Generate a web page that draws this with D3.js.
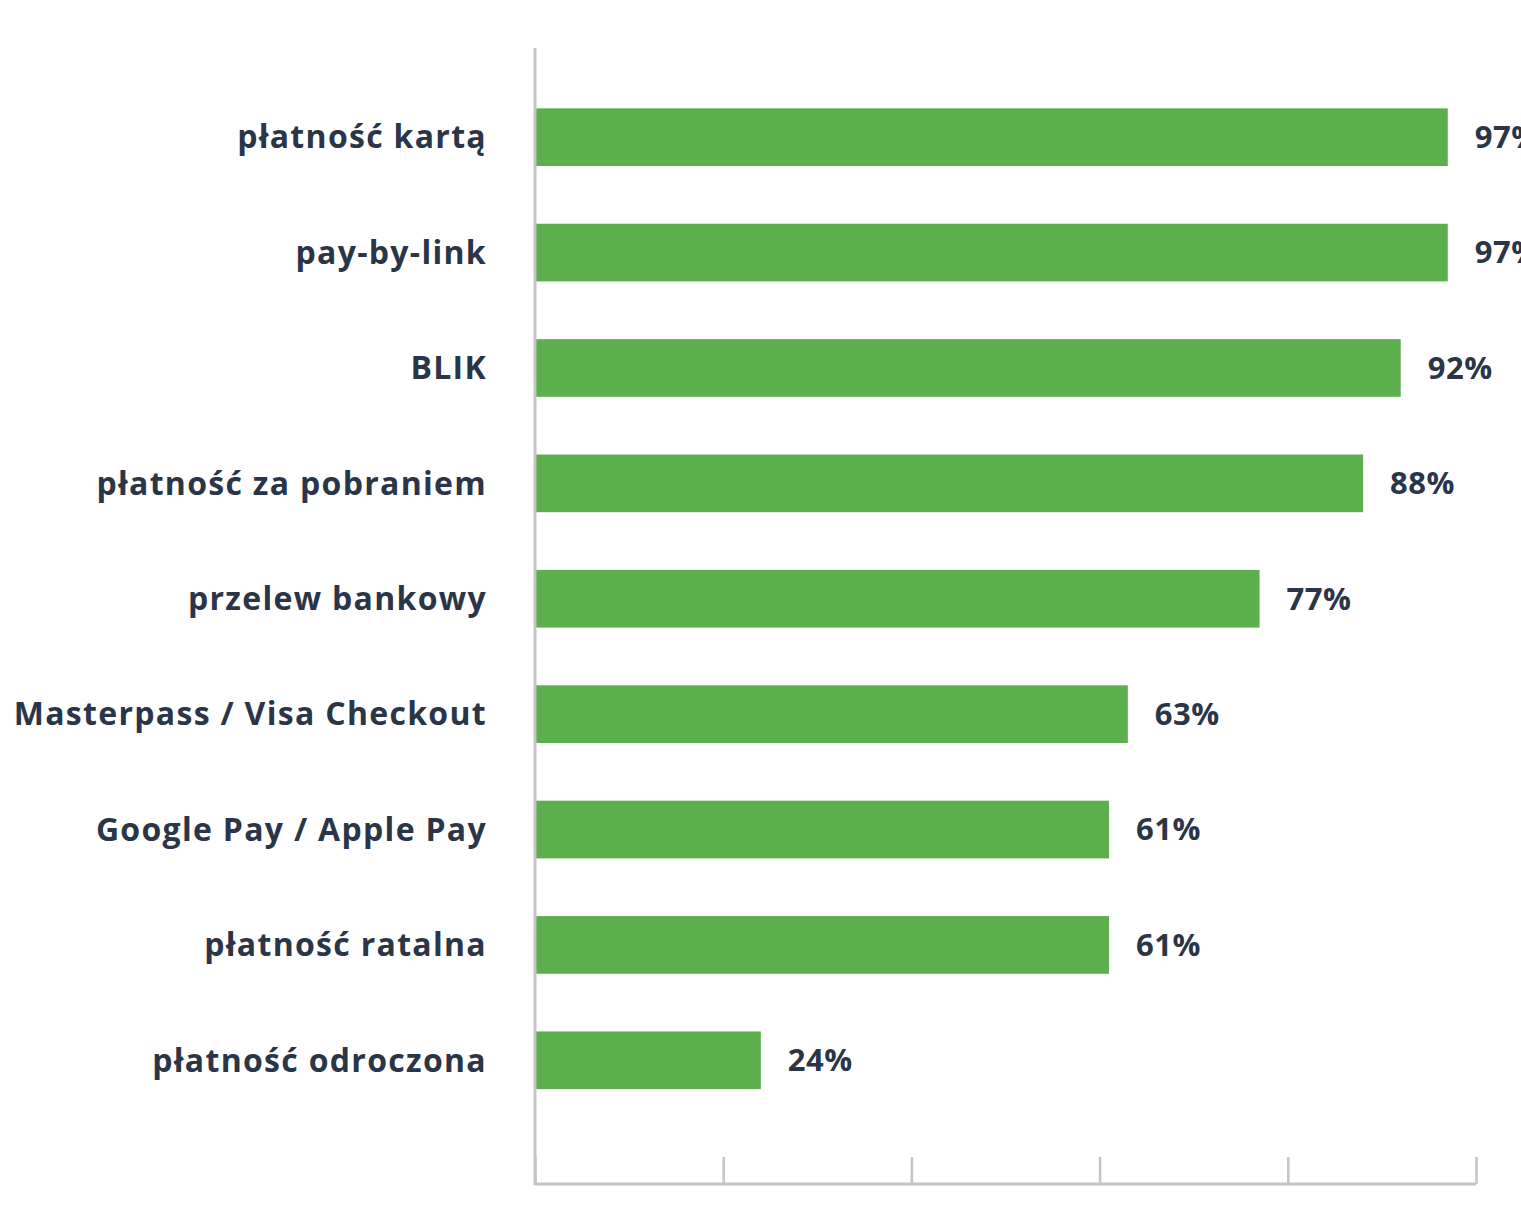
<!DOCTYPE html>
<html><head><meta charset="utf-8">
<script src="https://cdn.jsdelivr.net/npm/d3@7"></script>
<style>html,body{margin:0;padding:0;background:#fff;overflow:hidden}</style>
</head><body>
<svg id="c" width="1521" height="1208"></svg>
<script>
const categories = ["płatność kartą","pay-by-link","BLIK","płatność za pobraniem","przelew bankowy","Masterpass / Visa Checkout","Google Pay / Apple Pay","płatność ratalna","płatność odroczona"];
const values = [97,97,92,88,77,63,61,61,24];
const valueLabels = ["97%","97%","92%","88%","77%","63%","61%","61%","24%"];
const xTicks = [0,20,40,60,80,100];

const svg = d3.select("#c");
const x = d3.scaleLinear().domain([0,100]).range([535,1476]);
const y = d3.scaleBand().domain(categories).range([79.5,1118]).paddingInner(0.5).paddingOuter(0.25);
const font = "'Open Sans', sans-serif";
const textColor = "#2a3547";
const gray = "#c4c4c4";

svg.selectAll("rect.bar").data(categories).join("rect").attr("class","bar")
  .attr("x", x(0)).attr("y", d=>y(d))
  .attr("width", (d,i)=>x(values[i])-x(0)).attr("height", y.bandwidth())
  .attr("fill","#5daf4e");

const gx = svg.append("g").attr("transform","translate(0,1184)")
  .call(d3.axisBottom(x).tickValues(xTicks).tickSize(-27).tickFormat(""));
gx.select(".domain").attr("stroke",gray).attr("stroke-width",3).attr("d",`M${x(0)},0H${x(100)}`);
gx.selectAll(".tick line").attr("stroke",gray).attr("stroke-width",2.5);

const gy = svg.append("g").attr("transform",`translate(${x(0)},0)`)
  .call(d3.axisLeft(y).tickSize(0).tickPadding(48));
gy.select(".domain").attr("stroke",gray).attr("stroke-width",3).attr("d","M0,48V1185");
gy.selectAll(".tick text").attr("font-family",font).attr("font-weight",700)
  .attr("font-size",32).attr("letter-spacing","1.3px").attr("fill",textColor).attr("dy","0.35em");

svg.selectAll("text.val").data(categories).join("text").attr("class","val")
  .attr("x",(d,i)=>x(values[i])+27).attr("y",d=>y(d)+y.bandwidth()/2)
  .attr("dy","0.35em").attr("font-family",font).attr("font-weight",700)
  .attr("font-size",31).attr("letter-spacing","0.5px").attr("fill",textColor).text((d,i)=>valueLabels[i]);
</script>
</body></html>
